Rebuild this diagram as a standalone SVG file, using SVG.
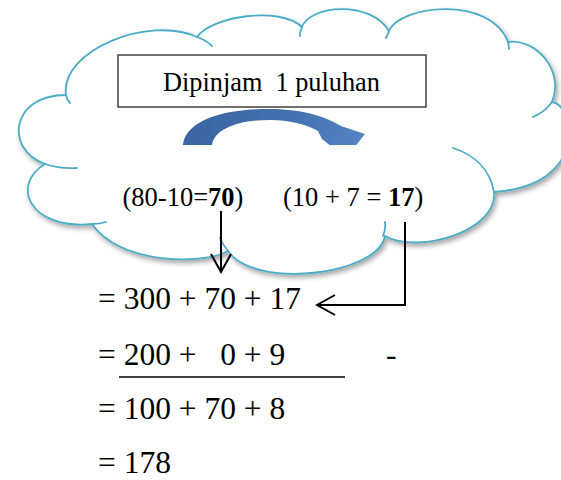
<svg xmlns="http://www.w3.org/2000/svg" width="561" height="480" viewBox="0 0 561 480" xml:space="preserve">
<style>
.cloud{fill:#fff;stroke:#4BACC6;stroke-width:1.8}
.tail{fill:none;stroke:#4BACC6;stroke-width:1.8;stroke-linecap:round}
text{font-family:'Liberation Serif','DejaVu Serif',serif;fill:#000;white-space:pre}
.ct{font-size:26.5px}
.eq{font-size:31.5px}
.b{font-weight:bold}
.conn{fill:none;stroke:#000;stroke-width:2}
</style>
<defs>
<filter id="sh" x="-10%" y="-10%" width="130%" height="130%">
<feDropShadow dx="2" dy="3" stdDeviation="2.5" flood-color="#000" flood-opacity="0.35"/>
</filter>
<linearGradient id="ag" x1="183" y1="110" x2="363" y2="150" gradientUnits="userSpaceOnUse">
<stop offset="0" stop-color="#3A64A0"/>
<stop offset="0.5" stop-color="#416FAD"/>
<stop offset="1" stop-color="#5584C4"/>
</linearGradient>
<clipPath id="cut"><rect x="0" y="0" width="561" height="145"/></clipPath>
<marker id="open" viewBox="0 0 22 24" markerUnits="userSpaceOnUse" markerWidth="22" markerHeight="24" refX="20" refY="12" orient="auto">
<path d="M2,2 L20,12 L2,22" fill="none" stroke="#000" stroke-width="2"/>
</marker>
</defs>
<g id="cloud">
<path class="cloud" filter="url(#sh)" d="M66,95 C60,50 150,15 197,37 C212,16 280,6 302,27 C310,5 370,0 389,31 C400,5 490,-5 508,42 C535,38 565,70 552,102 C575,105 590,185 494,192 C498,230 420,255 385,236 C378,275 255,290 228,251 C205,265 120,265 92,224 C30,230 10,185 45,164 C5,150 10,95 66,95 Z"/>
<path class="tail" d="M66,95 Q67,100 70,103 M197,37 Q206,40 212,46 M302,27 Q300,31 300,36 M389,31 Q388,34 386,38 M508,42 Q509,45 509,49 M552,102 Q545,112 533,117 M453,148 C475,155 490,170 494,192 M385,222 Q386,229 383,236 M228,251 Q223,245 220,238 M92,224 Q100,224 106,222 M45,164 Q60,169 77,168"/>
</g>
<g id="box">
<rect x="118" y="55" width="308" height="52" fill="#fff" stroke="#333" stroke-width="1.4"/>
<text x="163" y="90.5" font-size="26.3">Dipinjam  1 puluhan</text>
</g>
<g id="curved-arrow" clip-path="url(#cut)">
<path fill="url(#ag)" d="M183,145 C185,124 215,109 270,109 C305,109 328,118 341,126 L365,134 L346,158 L322,139 L318,131 C305,124 290,120 270,120 C240,120 215,128 212,145 Z"/>
</g>
<g id="tens">
<text class="ct" x="122.5" y="206">(80-10=<tspan class="b">70</tspan>)</text>
</g>
<g id="ones">
<text class="ct" x="283" y="206">(10 + 7 = <tspan class="b">17</tspan>)</text>
</g>
<g id="line1"><text class="eq" x="98" y="309">= 300 + 70 + 17</text></g>
<g id="line2"><text class="eq" x="98" y="365">= 200 +   0 + 9</text>
<text class="eq" x="386" y="365">-</text></g>
<g id="rule"><line x1="119" y1="377" x2="345" y2="377" stroke="#000" stroke-width="1.6"/></g>
<g id="line3"><text class="eq" x="98" y="419">= 100 + 70 + 8</text></g>
<g id="line4"><text class="eq" x="98" y="473">= 178</text></g>
<g id="connectors">
<path class="conn" marker-end="url(#open)" d="M221,211 L221,272"/>
<path class="conn" marker-end="url(#open)" d="M405,222 L405,305 L317,305"/>
</g>
</svg>
